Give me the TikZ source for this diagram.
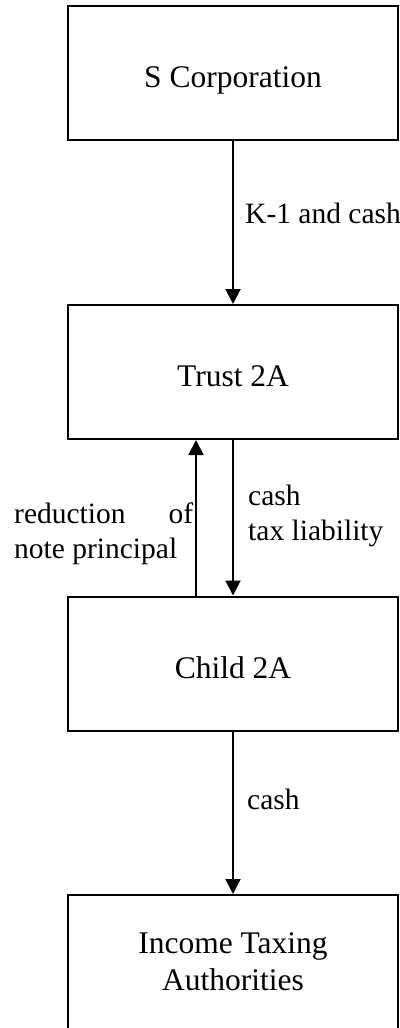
\documentclass[tikz,border=0pt]{standalone}
\usepackage{fontspec}
\setmainfont{Liberation Serif}
\usetikzlibrary{arrows.meta}
\begin{document}
\begin{tikzpicture}[x=1pt,y=-1pt,
  entity/.style={draw, line width=2pt, minimum width=330pt, minimum height=134pt,
    inner sep=0pt, align=center, font=\fontsize{31.5}{37}\selectfont},
  oneline/.style={text height=29pt, text depth=0pt},
  flowlabel/.style={inner sep=0pt, align=left, font=\fontsize{29.5}{35}\selectfont},
  flow/.style={line width=2pt, -{Triangle[width=15pt,length=15pt]}}]
  \useasboundingbox (0,0) rectangle (399,1028);
  \clip (0,0) rectangle (399,1028);

  % entities
  \node[entity, oneline] (scorp) at (233,73) {S Corporation};
  \node[entity, oneline] (trust) at (233,372) {Trust 2A};
  \node[entity, oneline] (child) at (233,663.5) {Child 2A};
  \node[entity] (tax) at (233,962) {Income Taxing\\Authorities};

  % flows
  \draw[flow] (scorp.south) -- (trust.north);
  \draw[flow] ([xshift=-37pt]child.north) -- ([xshift=-37pt]trust.south);
  \draw[flow] (trust.south) -- (child.north);
  \draw[flow] (child.south) -- (tax.north);

  % flow labels (base anchor sits on the last line)
  \node[flowlabel, anchor=base west] (lk1) at (245,223) {K-1 and cash};
  \node[flowlabel, anchor=base west] (lcash) at (248,540) {cash\\tax liability};
  \node[flowlabel, anchor=base west] (lnote) at (14,558) {\makebox[179pt][s]{reduction of}\\note principal};
  \node[flowlabel, anchor=base west] (ltax) at (247,809) {cash};
\end{tikzpicture}
\end{document}
